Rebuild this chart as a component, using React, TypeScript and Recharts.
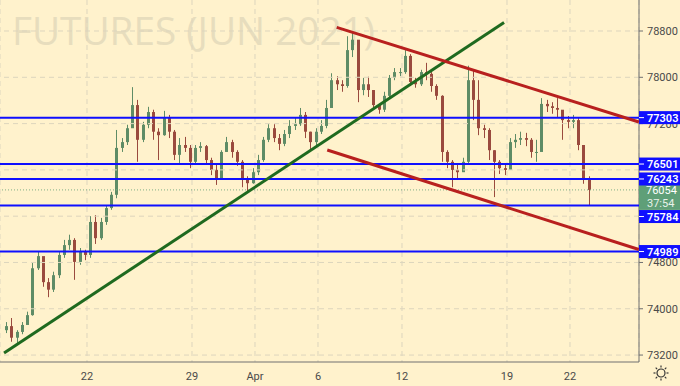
import React from 'react'
import {
  ComposedChart, Bar, XAxis, YAxis, CartesianGrid, ReferenceLine,
} from 'recharts'

// trading-day index: 0 = Mar 22 session start
const DAY_TICKS = [0, 5, 8, 11, 15, 20, 23]
const DAY_LABELS = ['22', '29', 'Apr', '6', '12', '19', '22']
// 75600 and 76400 sit fully under the level tags, so only their grid lines are kept
const PRICE_TICKS = [73200, 74000, 74800, 77200, 78000, 78800]
const GRID_PRICES = [73200, 74000, 74800, 75600, 76400, 77200, 78000, 78800]

const LEVELS = [77303, 76501, 76243, 75784, 74989]
const LAST_PRICE = 76054
const COUNTDOWN = '37:54'

const GREEN_TREND = [{ x: -3.95, y: 73235 }, { x: 19.86, y: 78947 }]
const RED_UPPER = [{ x: 11.89, y: 78864 }, { x: 26.28, y: 77227 }]
const RED_LOWER = [{ x: 11.44, y: 76743 }, { x: 26.28, y: 75024 }]

const CANDLE_START = -4
const CANDLE_STEP = 0.25
const FIRST_OPEN = 73630

const CLOSE = [
  73700, 73500, 73600, 73720, 73890, 74700, 74910, 74460, 74330, 74580,
  74930, 75100, 75190, 74810, 74980, 74930, 75500, 75220, 75500, 75740,
  75970, 76780, 76880, 77120, 77520, 76920, 77180, 77400, 77060, 77000,
  77300, 77060, 76660, 76830, 76780, 76540, 76780, 76810, 76570, 76400,
  76260, 76710, 76880, 76710, 76540, 76230, 76170, 76360, 76570, 76920,
  77120, 76950, 76850, 77020, 77160, 77190, 77350, 77060, 76880, 77060,
  77160, 77470, 77950, 77880, 77850, 78470, 78650, 77780, 77880, 77780,
  77520, 77440, 77680, 77990, 78090, 78090, 78370, 77920, 77880, 78090,
  78060, 77850, 77680, 76710, 76540, 76400, 76360, 76540, 77950, 77610,
  77120, 77090, 76740, 76540, 76430, 76400, 76880, 76920, 76950, 76920,
  76710, 76710, 77540, 77500, 77470, 77440, 77260, 77230, 77260, 76830,
  76260, 76054,
]
const HIGH = [
  73770, 73840, 73630, 73770, 73950, 74790, 74980, 74810, 74530, 74640,
  74980, 75190, 75280, 75220, 75050, 75020, 75600, 75620, 75570, 75790,
  76020, 77090, 76950, 77180, 77830, 77610, 77230, 77490, 77440, 77120,
  77420, 77350, 77090, 76950, 76970, 76830, 76830, 76880, 76830, 76610,
  76490, 76740, 76970, 76920, 76740, 76570, 76290, 76430, 76660, 76970,
  77190, 77190, 77020, 77090, 77260, 77300, 77470, 77400, 77060, 77120,
  77260, 77610, 78070, 78020, 77950, 78710, 78780, 78610, 77990, 78010,
  77780, 77540, 77750, 78040, 78160, 78160, 78470, 78400, 77990, 78130,
  78250, 78090, 77880, 77690, 76740, 76570, 76490, 76610, 78200, 78130,
  77950, 77180, 77120, 76740, 76570, 76500, 76950, 77020, 77060, 77040,
  76950, 76920, 77640, 77610, 77570, 77640, 77350, 77330, 77350, 77300,
  76830, 76290,
]
const LOW = [
  73580, 73430, 73410, 73560, 73740, 73880, 74670, 74380, 74200, 74290,
  74530, 74880, 75020, 74500, 74760, 74840, 74880, 75120, 75190, 75450,
  75710, 75910, 76710, 76830, 77180, 76540, 76880, 77120, 76920, 76570,
  76990, 76950, 76570, 76520, 76710, 76430, 76490, 76710, 76490, 76310,
  76140, 76230, 76710, 76610, 76470, 76100, 76000, 76160, 76310, 76540,
  76880, 76880, 76740, 76810, 76950, 77090, 77160, 76950, 76740, 76780,
  77020, 77120, 77520, 77780, 77750, 77820, 78350, 77570, 77690, 77660,
  77440, 77370, 77400, 77640, 77950, 78020, 78060, 77850, 77820, 77850,
  77950, 77750, 77610, 76540, 76430, 76100, 76260, 76400, 76490, 77260,
  77000, 76950, 76570, 75930, 76330, 76310, 76400, 76780, 76830, 76810,
  76610, 76540, 76740, 77400, 77370, 77300, 76920, 77120, 77120, 76740,
  76160, 75790,
]

const candles = CLOSE.map((close, i) => ({
  t: CANDLE_START + (i + 0.5) * CANDLE_STEP,
  open: i === 0 ? FIRST_OPEN : CLOSE[i - 1],
  close,
  high: HIGH[i],
  low: LOW[i],
  range: [LOW[i], HIGH[i]],
}))

const BG = '#fff2cc'
const BLUE = '#0f0fff'
const UP = '#5e8c66'
const DOWN = '#9a4a3e'
const TAG_GREEN = '#5f9f78'
const GRID = '#ddd5bd'
const FONT = 'Roboto, "Liberation Sans", sans-serif'
const X_DOMAIN = [-4.143, 26.286]
const Y_DOMAIN = [73080, 79336]
const MARGIN = { top: 0, right: 0, bottom: 0, left: 0 }

// tag moved down when it would sit on the last-price tag
const TAG_NUDGE: Record<number, number> = { 75784: 11 }

function Candle(props: any) {
  const { x, y, width, height, payload } = props
  if (!payload) return null
  const top = Math.min(y, y + height)
  const h = Math.abs(height)
  const span = payload.high - payload.low || 1
  const py = (v: number) => top + ((payload.high - v) / span) * h
  const cx = Math.round(x + width / 2) + 0.5
  const color = payload.close >= payload.open ? UP : DOWN
  const bt = py(Math.max(payload.open, payload.close))
  const bb = py(Math.min(payload.open, payload.close))
  return (
    <g>
      <line x1={cx} x2={cx} y1={top} y2={top + h} stroke={color} strokeWidth={1} />
      <rect x={cx - 1.5} y={bt} width={3} height={Math.max(1, bb - bt)} fill={color} />
    </g>
  )
}

function LevelTag(props: any) {
  const { viewBox, value } = props
  if (!viewBox) return null
  const left = viewBox.x + viewBox.width
  const y = viewBox.y + (TAG_NUDGE[value] || 0)
  return (
    <g>
      <rect x={left} y={y - 6.5} width={41} height={13} fill={BLUE} />
      <line x1={left} x2={left + 5} y1={y} y2={y} stroke="#ffffff" strokeWidth={1} />
      <text x={left + 8} y={y + 4} fill="#ffffff" fontSize={11} fontWeight={600} fontFamily={FONT}>
        {value}
      </text>
    </g>
  )
}

function PriceTag(props: any) {
  const { viewBox } = props
  if (!viewBox) return null
  const left = viewBox.x + viewBox.width
  const y = viewBox.y
  return (
    <g>
      <rect x={left} y={y - 6} width={41} height={26} fill={TAG_GREEN} />
      <text x={left + 7} y={y + 4} fill="#ffffff" fontSize={11} fontFamily={FONT}>{LAST_PRICE}</text>
      <text x={left + 8} y={y + 17} fill="#e8f2ea" fontSize={11} fontFamily={FONT}>{COUNTDOWN}</text>
    </g>
  )
}

function SunIcon() {
  const rays = [0, 45, 90, 135, 180, 225, 270, 315]
  return (
    <svg width={20} height={20} style={{ position: 'absolute', left: 651, top: 363 }}>
      <circle cx={10} cy={10} r={4} fill="none" stroke="#333" strokeWidth={1.2} />
      {rays.map(a => {
        const r = (a * Math.PI) / 180
        return (
          <line key={a} x1={10 + Math.cos(r) * 5.5} y1={10 + Math.sin(r) * 5.5}
            x2={10 + Math.cos(r) * 7.5} y2={10 + Math.sin(r) * 7.5} stroke="#333" strokeWidth={1.2} />
        )
      })}
    </svg>
  )
}

export default function App() {
  return (
    <div style={{ position: 'absolute', left: 0, top: 0, width: 680, height: 386, background: BG, overflow: 'hidden' }}>
      <svg width={680} height={386} style={{ position: 'absolute', left: 0, top: 0 }}>
        <text x={12} y={45} fontSize={38} fill="#e7ddbd" fontFamily='"Open Sans", sans-serif'
          textLength={363} lengthAdjust="spacingAndGlyphs">
          FUTURES (JUN 2021)
        </text>
      </svg>

      {/* base chart: grid, axes, candles */}
      <div style={{ position: 'absolute', left: 0, top: 0 }}>
        <ComposedChart width={680} height={386} data={candles} margin={MARGIN}>
          <CartesianGrid stroke={GRID} strokeDasharray="5 4" horizontal={false} />
          {GRID_PRICES.map(p => (
            <ReferenceLine key={p} y={p} stroke={GRID} strokeDasharray="5 4" />
          ))}
          <XAxis
            dataKey="t"
            type="number"
            domain={X_DOMAIN}
            ticks={DAY_TICKS}
            tickFormatter={(v: number) => DAY_LABELS[DAY_TICKS.indexOf(v)] ?? ''}
            height={24}
            axisLine={{ stroke: '#707070' }}
            tickLine={false}
            tickMargin={4}
            tick={{ fontSize: 11, fill: '#4a4a4a', fontFamily: FONT }}
            allowDataOverflow
          />
          <YAxis
            orientation="right"
            type="number"
            domain={Y_DOMAIN}
            ticks={PRICE_TICKS}
            width={41}
            axisLine={{ stroke: '#707070' }}
            tickLine={{ stroke: '#707070' }}
            tickSize={4}
            tickMargin={4}
            tick={{ fontSize: 11, fill: '#4a4a4a', fontFamily: FONT, textAnchor: 'start' }}
            allowDataOverflow
          />
          <Bar dataKey="range" barSize={4} shape={Candle} isAnimationActive={false} />
        </ComposedChart>
      </div>

      {/* overlay chart with the same scales: levels, trend lines and price tags on top of the axis */}
      <div style={{ position: 'absolute', left: 0, top: 0 }}>
        <ComposedChart width={680} height={386} data={candles} margin={MARGIN}>
          <XAxis dataKey="t" type="number" domain={X_DOMAIN} height={24} tick={false} tickLine={false} axisLine={false} allowDataOverflow />
          <YAxis orientation="right" type="number" domain={Y_DOMAIN} width={41} tick={false} tickLine={false} axisLine={false} allowDataOverflow />
          <ReferenceLine y={LAST_PRICE} stroke="#7fae86" strokeDasharray="1 2" label={PriceTag} />
          {LEVELS.map(v => (
            <ReferenceLine key={v} y={v} stroke={BLUE} strokeWidth={2} label={<LevelTag value={v} />} />
          ))}
          <ReferenceLine segment={GREEN_TREND} stroke="#1f6a1f" strokeWidth={3} />
          <ReferenceLine segment={RED_UPPER} stroke="#b8201e" strokeWidth={3} />
          <ReferenceLine segment={RED_LOWER} stroke="#b8201e" strokeWidth={3} />
        </ComposedChart>
      </div>
      <SunIcon />
    </div>
  )
}
